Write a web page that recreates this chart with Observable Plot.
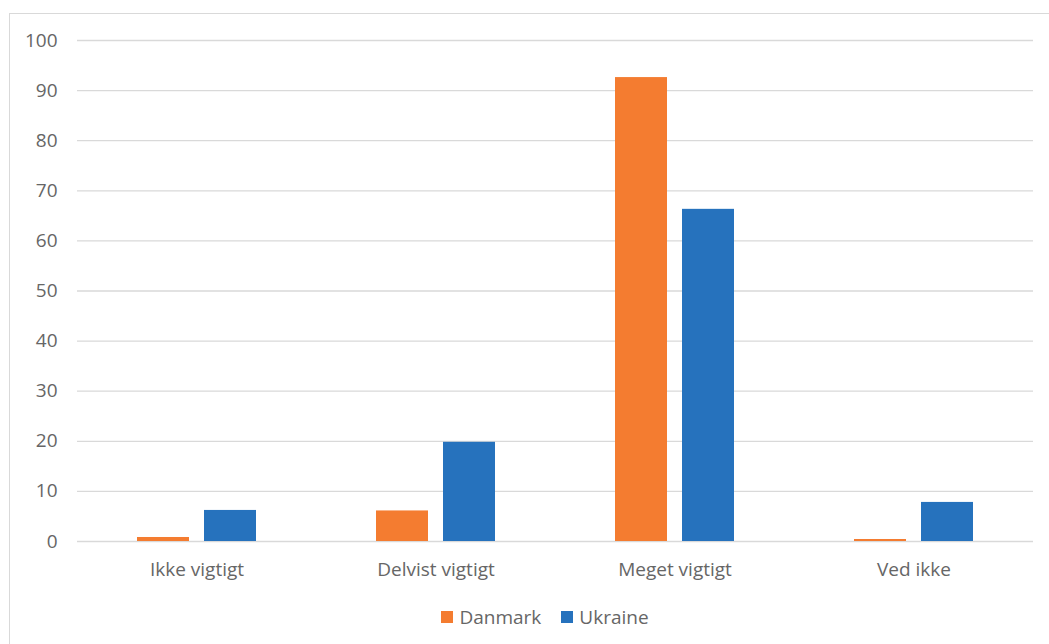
<!DOCTYPE html>
<html>
<head>
<meta charset="utf-8">
<script src="https://cdn.jsdelivr.net/npm/d3@7"></script>
<script src="https://cdn.jsdelivr.net/npm/@observablehq/plot@0.6"></script>
<style>
  html, body { margin: 0; padding: 0; background: #fff; overflow: hidden; }
  body { width: 1049px; height: 644px; position: relative; font-family: "Open Sans", sans-serif; }
  #frame { position: absolute; left: 9px; top: 13px; width: 1100px; height: 700px; border: 1px solid #d9d9d9; box-sizing: border-box; }
  #chart { position: absolute; left: 0; top: 0; }
  #legend { position: absolute; left: 6px; width: 1078px; top: 604px; display: flex; justify-content: center; gap: 20px; font-size: 19px; color: #666; }
  .item { display: flex; align-items: center; gap: 6px; }
  .sw { width: 12px; height: 12px; display: inline-block; }
</style>
</head>
<body>
<div id="frame"></div>
<div id="chart"></div>
<div id="legend"></div>
<script>
const categories = ["Ikke vigtigt", "Delvist vigtigt", "Meget vigtigt", "Ved ikke"];
const seriesNames = ["Danmark", "Ukraine"];
const danmark = [0.8, 6.1, 92.6, 0.4];
const ukraine = [6.2, 19.8, 66.3, 7.8];
const colors = ["#F47C30", "#2672BD"];
const yTicks = [0, 10, 20, 30, 40, 50, 60, 70, 80, 90, 100];

const data = [];
categories.forEach((c, i) => {
  data.push({cat: c, series: seriesNames[0], value: danmark[i]});
  data.push({cat: c, series: seriesNames[1], value: ukraine[i]});
});

const height = 595;
const chart = Plot.plot({
  width: 1049,
  height,
  marginLeft: 77,
  marginRight: 16,
  marginTop: 40,
  marginBottom: height - 541,
  style: {fontFamily: "'Open Sans', sans-serif", fontSize: "19px", color: "#666", background: "transparent"},
  fx: {domain: categories, padding: 0, label: null},
  x: {domain: seriesNames, paddingInner: 0.22, paddingOuter: 0.868, axis: null},
  y: {domain: [0, 100], label: null},
  color: {domain: seriesNames, range: colors},
  marks: [
    Plot.gridY(yTicks, {stroke: "#d9d9d9", strokeOpacity: 1, strokeWidth: 1.3}),
    Plot.barY(data, {fx: "cat", x: "series", y: "value", fill: "series"}),
    Plot.axisY(yTicks, {tickSize: 0, tickPadding: 20, label: null, fill: "#666"}),
    Plot.axisFx({anchor: "bottom", tickSize: 0, tickPadding: 21, label: null, fill: "#666"})
  ]
});
document.getElementById("chart").appendChild(chart);

const legend = document.getElementById("legend");
seriesNames.forEach((s, i) => {
  const it = document.createElement("div");
  it.className = "item";
  const sw = document.createElement("span");
  sw.className = "sw";
  sw.style.background = colors[i];
  const t = document.createElement("span");
  t.textContent = s;
  it.appendChild(sw);
  it.appendChild(t);
  legend.appendChild(it);
});
</script>
</body>
</html>
